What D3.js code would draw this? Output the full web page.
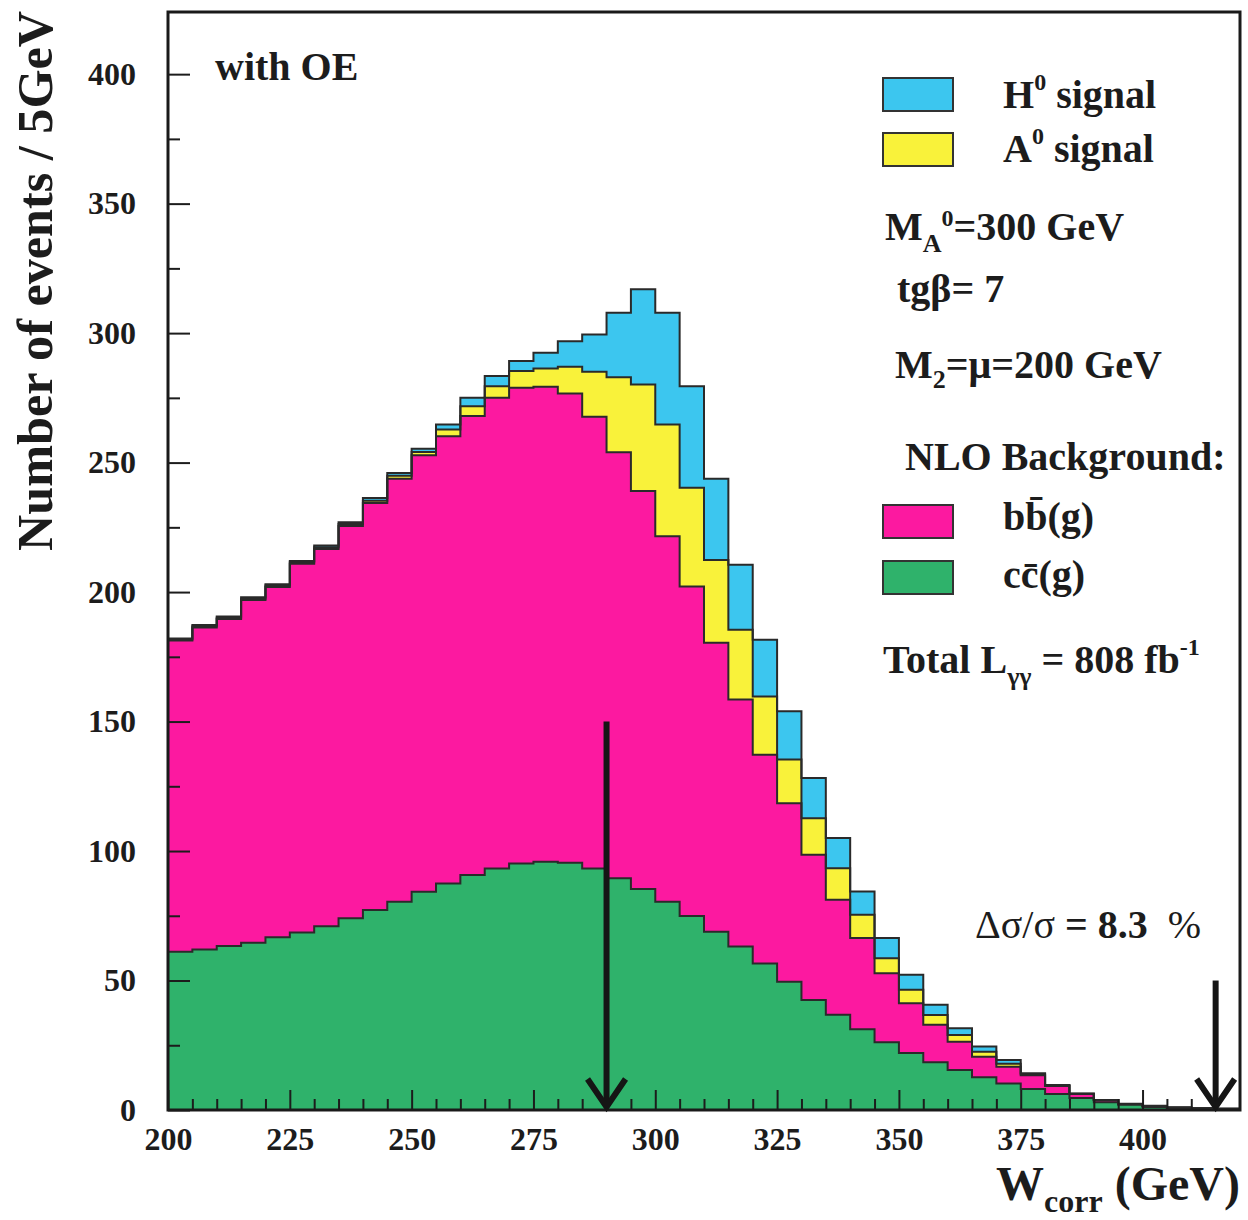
<!DOCTYPE html>
<html><head><meta charset="utf-8">
<script src="https://cdn.jsdelivr.net/npm/d3@7"></script>
<style>
body{margin:0;background:#fff}
svg{display:block}
text{font-family:"Liberation Serif","Times New Roman",serif;font-weight:bold;fill:#1c1c1c;white-space:pre}
</style>
</head><body>
<svg id="c" width="1248" height="1220"></svg>
<script>
// Lower edges of the 5 GeV bins (GeV)
const binLow = [200,205,210,215,220,225,230,235,240,245,250,255,260,265,270,275,280,285,290,295,
                300,305,310,315,320,325,330,335,340,345,350,355,360,365,370,375,380,385,390,395,
                400,405,410,415];
// c c-bar (g) NLO background
const ccBkg = [61.1,62.0,63.3,64.6,66.7,68.5,71.0,74.0,77.2,80.4,84.3,87.5,90.7,93.3,95.2,95.9,95.5,93.3,89.5,85.3,
               80.4,74.9,68.8,63.1,56.6,49.5,42.5,36.8,31.2,26.2,22.0,18.4,15.4,12.6,10.2,8.1,6.2,4.6,3.0,2.0,
               1.2,0.8,0.5,0.3];
// b b-bar (g) NLO background
const bbBkg = [120.2,124.3,126.3,132.3,135.3,142.4,145.6,151.5,157.2,163.4,168.5,172.7,177.3,181.7,183.7,183.4,181.2,174.4,164.5,153.7,
               141.2,127.3,111.6,95.4,80.6,69.0,56.1,44.4,35.2,26.6,19.2,14.5,11.0,8.0,6.5,5.3,3.1,1.6,0.8,0.3,
               0.3,0.2,0.2,0.2];
// A0 signal
const aSignal = [0.4,0.5,0.5,0.5,0.5,0.6,0.7,0.8,0.9,1.1,1.3,2.6,3.8,4.5,6.5,7.0,10.3,17.4,29.0,41.2,
                 43.1,38.1,32.0,27.0,22.5,16.8,14.1,12.2,9.0,5.8,5.2,3.8,2.6,1.9,1.2,0.4,0.2,0.1,0.05,0.05,
                 0.05,0,0,0];
// H0 signal
const hSignal = [0.4,0.5,0.5,0.6,0.5,0.5,0.7,0.7,1.0,1.1,1.2,1.9,3.2,3.9,3.8,6.1,9.9,14.4,24.9,36.7,
                 43.2,39.2,31.4,25.1,21.9,18.7,15.5,11.6,9.0,7.8,5.8,3.9,2.6,2.0,1.4,0.4,0.2,0.1,0.05,0.05,
                 0.05,0,0,0];
const binWidth = 5;
const xTickLabels = [200,225,250,275,300,325,350,375,400];
const yTickLabels = [0,50,100,150,200,250,300,350,400];
const xMinorTicks = [205,210,215,220,230,235,240,245,255,260,265,270,280,285,290,295,305,310,315,320,330,335,340,345,355,360,365,370,380,385,390,395,405,410,415];
const yMinorTicks = [25,75,125,175,225,275,325,375];
// window arrows (GeV, arrow top in events)
const arrowX = [290, 415];
const arrowTop = [150, 50];

const svg = d3.select('#c');
const x = d3.scaleLinear().domain([200, 420]).range([168, 1240]);
const y = d3.scaleLinear().domain([0, 424]).range([1110, 12]);

const table = binLow.map((lo, i) => ({lo, cc: ccBkg[i], bb: bbBkg[i], A: aSignal[i], H: hSignal[i]}));
const keys = ['cc', 'bb', 'A', 'H'];
const layers = d3.stack().keys(keys)(table);
const colors = {cc: '#2fb26b', bb: '#fc19a0', A: '#f9f23a', H: '#3cc6ef'};

svg.append('defs').append('clipPath').attr('id', 'plot')
  .append('rect').attr('x', x(200)).attr('y', y(424)).attr('width', x(420) - x(200)).attr('height', y(0) - y(424));

function pts(layer) {
  const p = layer.map(d => [d.data.lo, d[1]]);
  const last = layer[layer.length - 1];
  p.push([last.data.lo + binWidth, last[1]]);
  return p;
}
const area = d3.area().curve(d3.curveStepAfter).x(d => x(d[0])).y0(y(0)).y1(d => y(d[1]));
const line = d3.line().curve(d3.curveStepAfter).x(d => x(d[0])).y(d => y(d[1]));

const g = svg.append('g').attr('clip-path', 'url(#plot)');
[...layers].reverse().forEach(L => {
  g.append('path').attr('d', area(pts(L))).attr('fill', colors[L.key]);
});
[...layers].reverse().forEach(L => {
  g.append('path').attr('d', line(pts(L))).attr('fill', 'none')
    .attr('stroke', '#2a2a2a').attr('stroke-width', 2);
});

// axes (ticks inside the frame)
function styleAxis(sel) {
  sel.select('.domain').remove();
  sel.selectAll('.tick line').attr('stroke', '#1c1c1c').attr('stroke-width', 2);
  sel.selectAll('.tick text').attr('font-size', 32).attr('fill', '#1c1c1c')
    .style('font-family', '"Liberation Serif","Times New Roman",serif').style('font-weight', 'bold');
}
svg.append('g').attr('transform', `translate(${x(200)},0)`)
  .call(d3.axisLeft(y).tickValues(yTickLabels).tickSizeInner(-22).tickSizeOuter(0).tickPadding(32).tickFormat(d3.format('d')))
  .call(styleAxis);
svg.append('g').attr('transform', `translate(${x(200)},0)`)
  .call(d3.axisLeft(y).tickValues(yMinorTicks).tickSizeInner(-12).tickSizeOuter(0).tickFormat(''))
  .call(styleAxis);
svg.append('g').attr('transform', `translate(0,${y(0)})`)
  .call(d3.axisBottom(x).tickValues(xTickLabels).tickSizeInner(-20).tickSizeOuter(0).tickPadding(17).tickFormat(d3.format('d')))
  .call(styleAxis);
svg.append('g').attr('transform', `translate(0,${y(0)})`)
  .call(d3.axisBottom(x).tickValues(xMinorTicks).tickSizeInner(-11).tickSizeOuter(0).tickFormat(''))
  .call(styleAxis);

// frame
svg.append('rect').attr('x', x(200)).attr('y', y(424)).attr('width', x(420) - x(200)).attr('height', y(0) - y(424))
  .attr('fill', 'none').attr('stroke', '#1a1a1a').attr('stroke-width', 3);

// arrows
arrowX.forEach((a, i) => {
  const ax = x(a), top = y(arrowTop[i]), bot = y(0) - 3;
  svg.append('line').attr('x1', ax).attr('x2', ax).attr('y1', top).attr('y2', bot)
    .attr('stroke', '#151515').attr('stroke-width', 6);
  svg.append('path').attr('d', `M${ax - 19},${bot - 28}L${ax},${bot}L${ax + 19},${bot - 28}`)
    .attr('fill', 'none').attr('stroke', '#151515').attr('stroke-width', 6).attr('stroke-linejoin', 'miter');
});

// axis titles
svg.append('text').attr('transform', 'translate(52,281) rotate(-90)').attr('text-anchor', 'middle')
  .attr('font-size', 50).attr('textLength', 540).attr('lengthAdjust', 'spacingAndGlyphs')
  .text('Number of events / 5GeV');
const xt = svg.append('text').attr('x', 1240).attr('y', 1200).attr('text-anchor', 'end').attr('font-size', 48);
xt.append('tspan').text('W');
xt.append('tspan').attr('font-size', 32).attr('dy', 12).text('corr');
xt.append('tspan').attr('dy', -12).text(' (GeV)');

// labels
svg.append('text').attr('x', 215).attr('y', 80).attr('font-size', 40).text('with OE');

// legend boxes
const legendBoxes = [{y: 78, c: colors.H}, {y: 133, c: colors.A}, {y: 505, c: colors.bb}, {y: 561, c: colors.cc}];
legendBoxes.forEach(b => svg.append('rect').attr('x', 883).attr('y', b.y).attr('width', 70).attr('height', 33)
  .attr('fill', b.c).attr('stroke', '#333').attr('stroke-width', 2));

function rich(xp, yp, parts, size) {
  const t = svg.append('text').attr('x', xp).attr('y', yp).attr('font-size', size || 40);
  let prev = 0;
  parts.forEach(p => {
    const off = p.off || 0;
    t.append('tspan').attr('dy', off - prev).attr('font-size', p.fs || size || 40)
      .attr('font-weight', p.fw || null).text(p.t);
    prev = off;
  });
  return t;
}
rich(1003, 108, [{t: 'H'}, {t: '0', fs: 24, off: -18}, {t: ' signal'}]);
rich(1003, 162, [{t: 'A'}, {t: '0', fs: 24, off: -18}, {t: ' signal'}]);
rich(885, 240, [{t: 'M'}, {t: 'A', fs: 26, off: 12}, {t: '0', fs: 24, off: -14}, {t: '=300 GeV'}]);
rich(897, 302, [{t: 'tgβ= 7'}]);
rich(895, 378, [{t: 'M'}, {t: '2', fs: 26, off: 10}, {t: '=μ=200 GeV'}]);
rich(905, 470, [{t: 'NLO Background:'}]);
rich(1003, 530, [{t: 'bb̄(g)'}]);
rich(1003, 588, [{t: 'cc̄(g)'}]);
rich(883, 673, [{t: 'Total L'}, {t: 'γγ', fs: 26, off: 12}, {t: ' = 808 fb', off: 0}, {t: '-1', fs: 24, off: -18}]);
rich(975, 938, [{t: 'Δσ/σ', fw: 'normal'}, {t: ' = 8.3', fw: 'bold'}, {t: '  %', fw: 'normal'}], 40);
</script>
</body></html>
